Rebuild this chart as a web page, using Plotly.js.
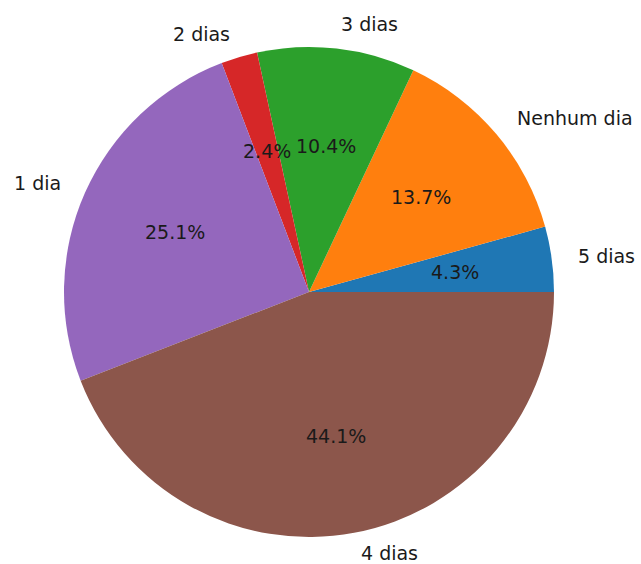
<!DOCTYPE html>
<html>
<head>
<meta charset="utf-8">
<script src="https://cdn.plot.ly/plotly-3.0.1.min.js"></script>
<style>
  body { margin: 0; background: #ffffff; }
  #pie { width: 641px; height: 564px; }
</style>
</head>
<body>
<div id="pie"></div>
<script>
// data (percent of answers), counterclockwise from 3 o'clock
var labels = ['5 dias', 'Nenhum dia', '3 dias', '2 dias', '1 dia', '4 dias'];
var values = [4.3, 13.7, 10.4, 2.4, 25.1, 44.1];
var colors = ['#1f77b4', '#ff7f0e', '#2ca02c', '#d62728', '#9467bd', '#8c564b'];

var W = 641, H = 564;
// pie centre and radius in pixels
var cx = 309, cy = 292, R = 245;
var fontSize = 19;

window.onload = function() {
    var total = 0;
    for (var i = 0; i < values.length; i++) total += values[i];

    var trace = {
        type: 'pie',
        labels: labels,
        values: values,
        sort: false,
        direction: 'counterclockwise',
        // plotly ends the first slice at the rotation angle, so shift it back
        rotation: 90 - values[0] / total * 360,
        textinfo: 'none',
        hoverinfo: 'label+percent',
        marker: { colors: colors, line: { width: 0 } },
        domain: {
            x: [(cx - R) / W, (cx + R) / W],
            y: [1 - (cy + R) / H, 1 - (cy - R) / H]
        },
        showlegend: false
    };

    // labels at 1.1 r and percents at 0.6 r, like matplotlib autopct
    var annotations = [];
    var cum = 0;
    for (var i = 0; i < values.length; i++) {
        var mid = (cum + values[i] / 2) / total * 2 * Math.PI;
        cum += values[i];
        var c = Math.cos(mid), s = Math.sin(mid);

        var py = cy - 1.1 * R * s;
        if (py > H - 11) py = H - 11; // keep bottom label inside the page

        annotations.push({
            xref: 'paper', yref: 'paper',
            x: (cx + 1.1 * R * c) / W,
            y: 1 - py / H,
            text: labels[i],
            showarrow: false,
            xanchor: c > 0 ? 'left' : 'right',
            yanchor: 'middle',
            font: { family: 'DejaVu Sans', size: fontSize, color: '#1a1a1a' }
        });
        annotations.push({
            xref: 'paper', yref: 'paper',
            x: (cx + 0.6 * R * c) / W,
            y: 1 - (cy - 0.6 * R * s) / H,
            text: (values[i] / total * 100).toFixed(1) + '%',
            showarrow: false,
            xanchor: 'center',
            yanchor: 'middle',
            font: { family: 'DejaVu Sans', size: fontSize, color: '#1a1a1a' }
        });
    }

    var layout = {
        width: W,
        height: H,
        margin: { l: 0, r: 0, t: 0, b: 0 },
        paper_bgcolor: '#ffffff',
        annotations: annotations
    };

    Plotly.newPlot('pie', [trace], layout, { displayModeBar: false });
}
</script>
</body>
</html>
